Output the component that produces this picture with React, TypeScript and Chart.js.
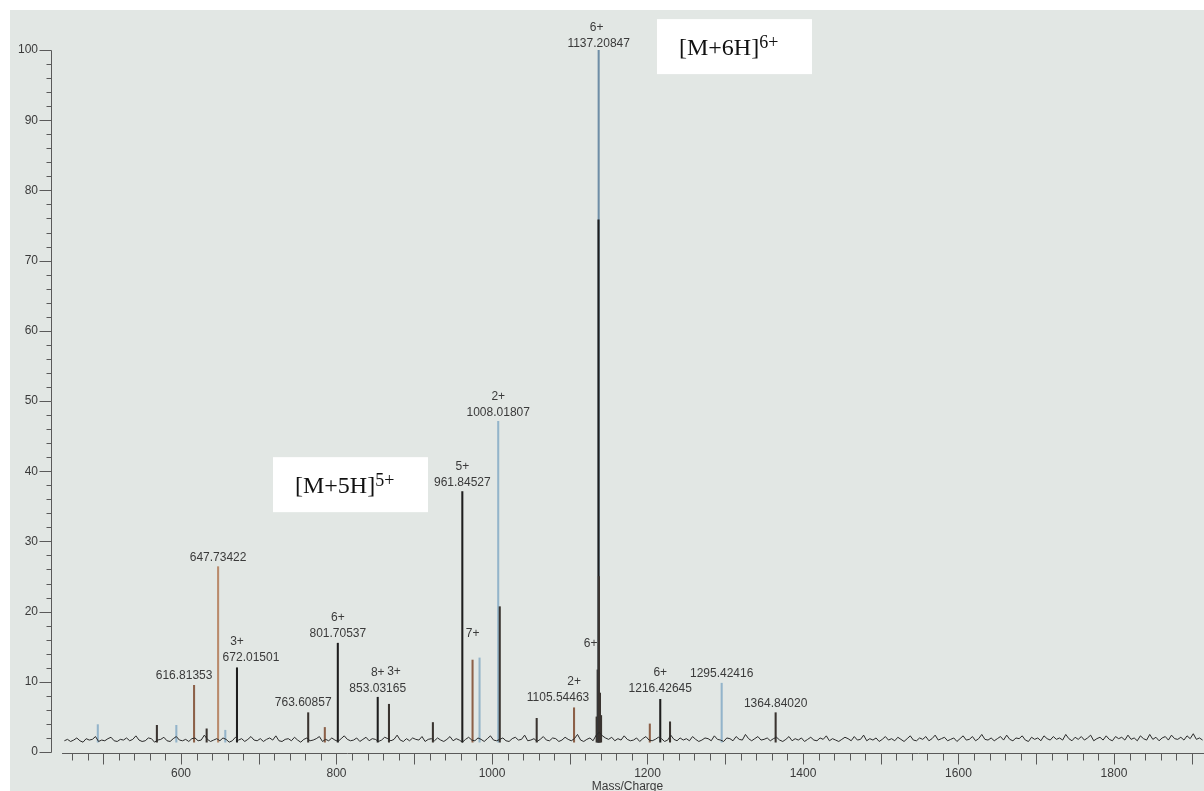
import React, { useEffect, useRef } from 'react';
import { Chart, registerables } from 'chart.js';

Chart.register(...registerables);

// ---------- data ----------
const X_MIN = 432.8;
const X_MAX = 1915.8;
const X_TICK_LABELS = [600, 800, 1000, 1200, 1400, 1600, 1800];
const Y_TICK_LABELS = [0, 10, 20, 30, 40, 50, 60, 70, 80, 90, 100];

const NOISE_START = 450;
const NOISE_STEP = 4;
const NOISE = [
  1.6, 1.8, 1.5, 1.7, 2.0, 1.6, 1.4, 1.9, 1.7, 1.8, 2.2, 1.5, 1.7, 1.6, 1.9, 2.1, 1.6, 1.5, 1.8, 1.7,
  2.0, 1.6, 1.8, 2.3, 1.7, 1.5, 1.6, 2.0, 1.9, 1.4, 1.7, 1.8, 2.1, 1.6, 1.5, 1.9, 2.2, 1.7, 1.6, 1.8,
  1.5, 1.9, 2.0, 1.6, 1.7, 2.4, 1.8, 1.5, 1.7, 1.9, 1.6, 2.0, 1.8, 1.4, 1.6, 2.1, 1.7, 1.9, 1.5, 1.8,
  2.2, 1.7, 1.6, 1.9, 1.5, 1.8, 2.0, 1.7, 2.3, 1.6, 1.5, 1.8, 1.9, 1.6, 2.1, 1.7, 1.4, 1.8, 2.0, 1.6,
  1.7, 1.9, 2.2, 1.5, 1.8, 1.6, 2.0, 1.7, 1.5, 1.9, 2.3, 1.8, 1.6, 1.7, 2.0, 1.5, 1.8, 2.1, 1.6, 1.9,
  1.8, 1.5, 1.7, 2.1, 1.9, 1.6, 1.8, 2.4, 1.7, 1.5, 1.9, 1.6, 2.0, 1.8, 1.7, 2.2, 1.5, 1.8, 1.9, 1.6,
  2.0, 1.7, 1.5, 1.8, 2.2, 1.6, 1.9, 1.7, 1.4, 1.8, 2.1, 1.7, 1.6, 2.0, 1.8, 1.5, 1.9, 2.3, 1.7, 1.6,
  1.8, 2.0, 1.6, 1.5, 1.9, 2.1, 1.7, 1.8, 2.4, 1.6, 1.7, 1.9, 1.5, 1.8, 2.2, 1.7, 1.6, 2.0, 1.9, 1.5,
  1.7, 2.1, 1.8, 1.6, 1.9, 2.5, 1.7, 1.5, 1.8, 2.0, 1.6, 2.4, 2.8, 2.3, 2.0, 1.8, 2.1, 1.6, 1.9, 1.7,
  2.3, 1.8, 1.6, 1.7, 2.0, 1.5, 1.9, 2.2, 1.7, 1.6, 1.8, 2.1, 1.9, 1.5, 1.7, 2.4, 1.8, 1.6, 2.0, 1.7,
  1.9, 1.6, 2.2, 1.8, 1.5, 1.7, 2.0, 1.9, 1.6, 2.3, 1.8, 1.7, 1.5, 2.0, 1.9, 1.6, 2.2, 1.8, 1.7, 2.5,
  1.9, 1.6, 1.9, 2.2, 1.7, 1.8, 2.0, 1.6, 1.9, 2.1, 1.7, 1.5, 1.8, 2.2, 1.6, 1.9, 1.7, 2.0, 1.5, 1.8,
  2.1, 1.7, 1.6, 2.0, 1.8, 2.3, 1.6, 1.9, 1.7, 1.5, 1.8, 2.1, 1.9, 1.6, 2.2, 1.7, 1.8, 2.4, 1.6, 1.9,
  1.7, 2.0, 1.5, 1.8, 2.2, 1.7, 1.9, 1.6, 2.1, 1.8, 1.5, 1.9, 2.3, 1.7, 1.6, 2.0, 1.8, 2.2, 1.6, 1.9,
  2.4, 1.7, 1.9, 2.1, 1.6, 1.8, 2.0, 1.5, 1.9, 2.3, 1.7, 1.8, 2.2, 1.6, 1.9, 2.5, 1.8, 1.7, 2.0, 1.6,
  1.9, 2.2, 1.7, 2.4, 1.8, 1.6, 2.0, 1.9, 2.3, 1.7, 1.5, 2.1, 1.8, 2.0, 1.6, 2.3, 1.9, 1.7, 2.2, 1.8,
  2.0, 1.7, 2.5, 1.9, 1.6, 2.1, 1.8, 2.2, 1.7, 2.0, 2.4, 1.6, 1.9, 2.1, 1.7, 2.3, 1.8, 1.6, 2.2, 1.9,
  2.1, 1.7, 2.4, 1.8, 2.0, 1.6, 2.3, 1.9, 1.7, 2.5, 1.8, 2.1, 1.6, 2.0, 2.2, 1.7, 2.4, 1.9, 1.8, 2.1,
  1.7, 2.3, 1.9, 2.6, 1.8, 2.0, 1.7,
];

const PEAK_BASE = 1.4;
const PEAK_MZ = [
  493, 569, 594, 616.81353, 633, 647.73422, 657, 672.01501, 763.60857, 785,
  801.70537, 853.03165, 867.5, 924, 961.84527, 975, 984, 1008.01807, 1010, 1057.5,
  1105.54463, 1134.6, 1135.9, 1137.20847, 1137.0, 1137.5, 1138.9, 1140.3, 1203, 1216.42645,
  1229, 1295.42416, 1364.8402,
];
const PEAK_INT = [
  3.9, 3.8, 3.8, 9.5, 3.3, 26.4, 3.1, 12.0, 5.6, 3.5,
  15.5, 7.8, 6.8, 4.2, 37.1, 13.1, 13.4, 47.1, 20.7, 4.8,
  6.3, 5.0, 11.7, 100, 75.8, 25, 8.4, 5.2, 4.0, 7.5,
  4.3, 9.8, 5.6,
];

// labelled peaks
const LABEL_MZ = [616.81353, 647.73422, 672.01501, 763.60857, 801.70537, 853.03165, 961.84527, 1008.01807, 1105.54463, 1137.20847, 1216.42645, 1295.42416, 1364.8402];
const LABEL_TEXT = ['616.81353', '647.73422', '672.01501', '763.60857', '801.70537', '853.03165', '961.84527', '1008.01807', '1105.54463', '1137.20847', '1216.42645', '1295.42416', '1364.84020'];
const LABEL_CHARGE = ['', '', '3+', '', '6+', '8+', '5+', '2+', '2+', '6+', '6+', '', ''];
// charge-only labels
const CHARGE_MZ = [867.5, 975, 1135.9];
const CHARGE_TEXT = ['3+', '7+', '6+'];
const CHARGE_LEVEL = [11.4, 16.9, 15.4];

// annotations
const ANNOT_MAIN = ['[M+6H]', '[M+5H]'];
const ANNOT_SUP = ['6+', '5+'];
const ANNOT_MZ = [1212.2, 718.3];
const ANNOT_LEVEL = [104.4, 42.0];

// ---------- styles ----------
const BLACK = '#1e1e1e';
const DARK = '#3a3430';
const BROWN = '#8c6048';
const TAN = '#b98a6b';
const BLUE = '#93b4ca';
const STEEL = '#6f8ea6';
const PEAK_COLORS = [
  BLUE, DARK, BLUE, BROWN, DARK, TAN, BLUE, BLACK, DARK, BROWN,
  BLACK, BLACK, DARK, DARK, BLACK, BROWN, BLUE, BLUE, DARK, DARK,
  BROWN, DARK, DARK, STEEL, BLACK, DARK, DARK, DARK, BROWN, BLACK,
  DARK, BLUE, DARK,
];
const LABEL_DX = [-10, 0, 14, -5, 0, 0, 0, 0, -16, 0, 0, 0, 0];
const LABEL_RISE = [10, 9, 10, 10, 10, 9, 9, 9, 10, 6, 11, 10, 9];
const CHARGE_DX_LABEL = [0, 0, 0, 0, 0, 0, 0, 0, 0, -2, 0, 0, 0];
const CHARGE_DX = [5, 0, -7];
const TEXT_COLOR = '#3a3a3a';
const AXIS_COLOR = '#5a5a5a';
const BG = '#e2e7e4';
const FONT = '"Liberation Sans", Arial, Helvetica, sans-serif';
const SERIF = '"Liberation Serif", "Times New Roman", serif';

const spectrumPlugin = {
  id: 'spectrumDecor',
  beforeDraw(chart: any) {
    const { ctx, width, height } = chart;
    ctx.save();
    ctx.fillStyle = '#ffffff';
    ctx.fillRect(0, 0, width, height);
    ctx.fillStyle = BG;
    ctx.fillRect(10, 10, width - 10, height - 10);
    ctx.restore();
  },
  beforeDatasetsDraw(chart: any) {
    const { ctx, scales } = chart;
    const x = scales.x;
    const y = scales.y;
    ctx.save();
    ctx.strokeStyle = AXIS_COLOR;
    ctx.lineWidth = 1;
    // y axis
    const ax = Math.round(y.right) + 0.5;
    ctx.beginPath();
    ctx.moveTo(ax, Math.round(y.getPixelForValue(100)) + 0.5);
    ctx.lineTo(ax, Math.round(y.getPixelForValue(0)) + 0.5);
    for (let v = 0; v <= 100; v += 2) {
      const py = Math.round(y.getPixelForValue(v)) + 0.5;
      const len = v % 10 === 0 ? 12 : 5;
      ctx.moveTo(ax - len, py);
      ctx.lineTo(ax, py);
    }
    ctx.stroke();
    // x axis
    const ay = Math.round(y.getPixelForValue(0)) + 1.5;
    ctx.beginPath();
    ctx.moveTo(x.getPixelForValue(447), ay);
    ctx.lineTo(chart.width, ay);
    for (let v = 460; v <= 1900; v += 20) {
      const px = Math.round(x.getPixelForValue(v)) + 0.5;
      const len = v % 100 === 0 ? 11 : 7;
      ctx.moveTo(px, ay);
      ctx.lineTo(px, ay + len);
    }
    ctx.stroke();
    ctx.restore();
  },
  afterDatasetsDraw(chart: any) {
    const { ctx, scales } = chart;
    const x = scales.x;
    const y = scales.y;
    ctx.save();
    ctx.fillStyle = TEXT_COLOR;
    ctx.font = `12px ${FONT}`;
    ctx.textAlign = 'center';
    ctx.textBaseline = 'middle';
    LABEL_MZ.forEach((mz, i) => {
      const k = PEAK_MZ.indexOf(mz);
      const px = x.getPixelForValue(mz);
      const top = y.getPixelForValue(PEAK_INT[k]);
      const cy = top - LABEL_RISE[i];
      ctx.fillText(LABEL_TEXT[i], px + LABEL_DX[i], cy);
      if (LABEL_CHARGE[i]) ctx.fillText(LABEL_CHARGE[i], px + CHARGE_DX_LABEL[i], cy - 16);
    });
    CHARGE_MZ.forEach((mz, i) => {
      ctx.fillText(CHARGE_TEXT[i], x.getPixelForValue(mz) + CHARGE_DX[i], y.getPixelForValue(CHARGE_LEVEL[i]));
    });
    // axis title
    ctx.fillText('Mass/Charge', (chart.chartArea.left + chart.chartArea.right) / 2, 787);

    // annotation boxes
    ANNOT_MAIN.forEach((main, i) => {
      const bx = x.getPixelForValue(ANNOT_MZ[i]);
      const by = y.getPixelForValue(ANNOT_LEVEL[i]);
      const bw = 155;
      const bh = 55;
      ctx.fillStyle = '#ffffff';
      ctx.fillRect(bx, by, bw, bh);
      ctx.fillStyle = '#111111';
      ctx.textAlign = 'left';
      ctx.textBaseline = 'alphabetic';
      ctx.font = `24px ${SERIF}`;
      const tx = bx + 22;
      const base = by + 36;
      ctx.fillText(main, tx, base);
      const w = ctx.measureText(main).width;
      ctx.font = `18px ${SERIF}`;
      ctx.fillText(ANNOT_SUP[i], tx + w, base - 7);
    });
    ctx.restore();
  },
};

export default function App() {
  const ref = useRef<HTMLCanvasElement | null>(null);

  useEffect(() => {
    if (!ref.current) return;
    const noiseData = NOISE.map((v, i) => ({ x: NOISE_START + i * NOISE_STEP, y: v }));
    const peakData = PEAK_MZ.map((mz, i) => ({ x: mz, y: [PEAK_BASE, PEAK_INT[i]] }));
    const chart = new Chart(ref.current, {
      type: 'bar',
      data: {
        datasets: [
          {
            type: 'line',
            data: noiseData as any,
            borderColor: '#2a2a2a',
            borderWidth: 1,
            pointRadius: 0,
            tension: 0,
            order: 1,
          } as any,
          {
            type: 'bar',
            data: peakData as any,
            backgroundColor: PEAK_COLORS,
            borderWidth: 0,
            barThickness: 1.4,
            borderSkipped: false,
            order: 2,
          } as any,
        ],
      },
      options: {
        responsive: false,
        animation: false,
        events: [],
        layout: { padding: { top: 50, right: 0, bottom: 0, left: 0 } },
        plugins: {
          legend: { display: false },
          tooltip: { enabled: false },
          title: { display: false },
        },
        scales: {
          x: {
            type: 'linear',
            min: X_MIN,
            max: X_MAX,
            offset: false,
            grid: { display: false, drawTicks: false },
            border: { display: false },
            afterBuildTicks: (s: any) => {
              s.ticks = X_TICK_LABELS.map((v) => ({ value: v }));
            },
            afterFit: (s: any) => {
              s.height = 39;
            },
            ticks: {
              autoSkip: false,
              maxRotation: 0,
              padding: 14,
              color: TEXT_COLOR,
              font: { family: FONT, size: 12 },
              callback: (v: any) => String(v),
            },
          },
          y: {
            type: 'linear',
            min: 0,
            max: 100,
            grid: { display: false, drawTicks: false },
            border: { display: false },
            afterBuildTicks: (s: any) => {
              s.ticks = Y_TICK_LABELS.map((v) => ({ value: v }));
            },
            afterFit: (s: any) => {
              s.width = 51;
            },
            ticks: {
              padding: 13,
              color: TEXT_COLOR,
              font: { family: FONT, size: 12 },
              callback: (v: any) => String(v),
            },
          },
        },
      } as any,
      plugins: [spectrumPlugin],
    });
    return () => chart.destroy();
  }, []);

  return (
    <div style={{ position: 'absolute', left: 0, top: 0, width: 1204, height: 791 }}>
      <canvas ref={ref} width={1204} height={791} style={{ display: 'block' }} />
    </div>
  );
}
